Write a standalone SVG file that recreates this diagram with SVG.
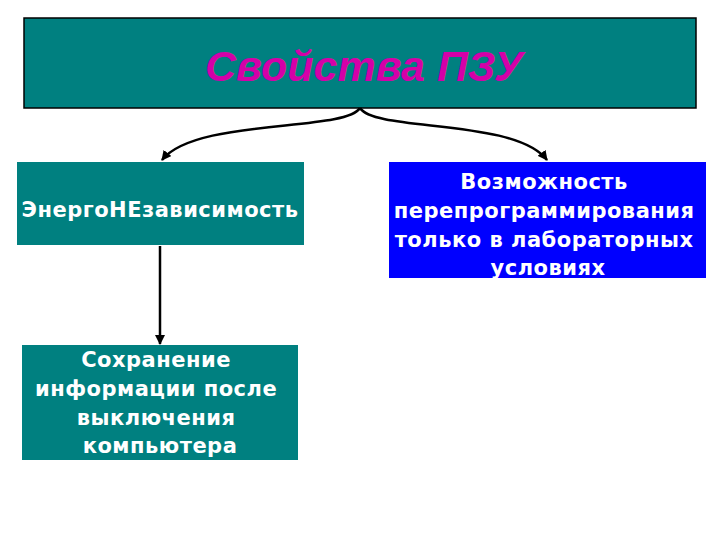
<svg xmlns="http://www.w3.org/2000/svg" width="720" height="540" viewBox="0 0 720 540">
<defs>
<style>
.teal{fill:#008080}
.blue{fill:#0000FF}
.t{font-family:"DejaVu Sans","Verdana",sans-serif;font-weight:bold;fill:#FFFFFF;text-anchor:middle;font-size:21px;letter-spacing:0.5px}
.title{font-family:"Liberation Sans","Arial",sans-serif;font-weight:bold;font-style:italic;fill:#D400A8;text-anchor:middle;font-size:43px}
.c{fill:none;stroke:#000;stroke-width:2.5}
</style>
<marker id="ah" viewBox="0 0 10 10" refX="9" refY="5" markerWidth="4" markerHeight="4" orient="auto">
<path d="M0,0 L10,5 L0,10 z" fill="#000"/>
</marker>
</defs>
<rect width="720" height="540" fill="#FFFFFF"/>
<g id="title">
<rect x="24" y="18" width="672" height="90" class="teal" stroke="#000" stroke-width="1.5"/>
<text x="364" y="81" class="title">Свойства ПЗУ</text>
</g>
<g id="connectors">
<path class="c" d="M360,108 C345,132 195,118 162,160" marker-end="url(#ah)"/>
<path class="c" d="M360,108 C375,132 515,118 547,160" marker-end="url(#ah)"/>
<path class="c" d="M160,246 L160,344" marker-end="url(#ah)"/>
</g>
<g id="energo">
<rect x="17" y="162" width="287" height="83" class="teal"/>
<text x="160" y="217" class="t">ЭнергоНЕзависимость</text>
</g>
<g id="reprog">
<rect x="389" y="162" width="317" height="116" class="blue"/>
<text class="t">
<tspan x="548" y="189">Возможность</tspan>
<tspan x="548" y="218">перепрограммирования</tspan>
<tspan x="548" y="247">только в лабораторных</tspan>
<tspan x="548" y="275">условиях</tspan>
</text>
</g>
<g id="save">
<rect x="22" y="345" width="276" height="115" class="teal"/>
<text class="t">
<tspan x="160" y="367">Сохранение</tspan>
<tspan x="160" y="396">информации после</tspan>
<tspan x="160" y="425">выключения</tspan>
<tspan x="160" y="453">компьютера</tspan>
</text>
</g>
</svg>
